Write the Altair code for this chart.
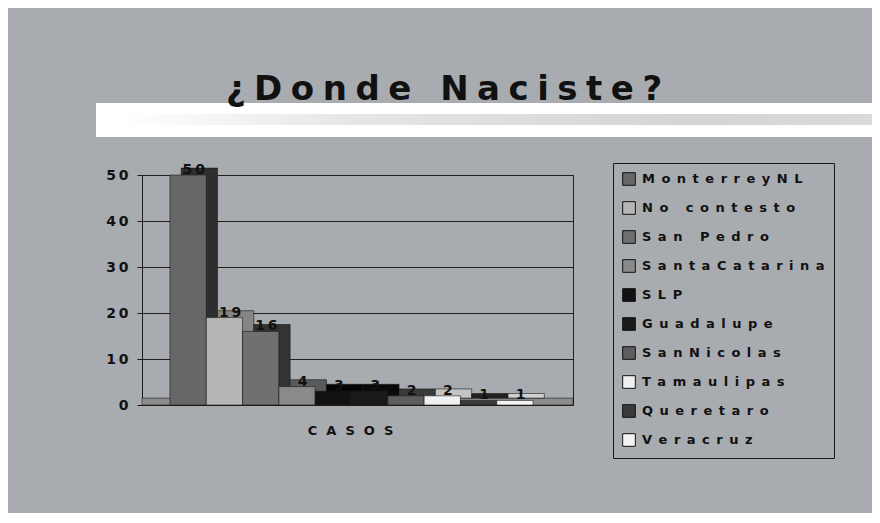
import altair as alt
import pandas as pd

# ---- data ----
categories = ["MonterreyNL", "No contesto", "San Pedro", "SantaCatarina", "SLP",
              "Guadalupe", "SanNicolas", "Tamaulipas", "Queretaro", "Veracruz"]
values = [50, 19, 16, 4, 3, 3, 2, 2, 1, 1]
front_colors = ["#676767", "#b6b6b6", "#707070", "#8a8a8a", "#121212",
                "#1a1a1a", "#5e5e5e", "#f0f0f0", "#3a3a3a", "#f4f4f4"]
side_colors = ["#2e2e2e", "#858585", "#333333", "#5a5a5a", "#050505",
               "#0a0a0a", "#3a3a3a", "#c4c4c4", "#222222", "#cfcfcf"]
y_ticks = [0, 10, 20, 30, 40, 50]
title_text = "¿Donde Naciste?"
x_title = "CASOS"

BG = "#a8abaf"
FONT = "DejaVu Sans"
EN = "\u2002"      # en space, legend tracking
TS = "\u2005"      # four-per-em space, title tracking
FS = "\u2009"      # thin space, number tracking
FIG = "\u2007"     # figure space, axis title tracking

def track(s, sp):
    return sp.join(list(s))

OFF = 0.77   # gap before first bar (slot units)
DX = 0.31    # 3D depth, x (slot units)
DY = 1.5     # 3D depth, y (value units)
XMAX = 11.87

df = pd.DataFrame({"cat": categories, "value": values,
                   "front": front_colors, "side": side_colors})
df["base"] = 0
df["x0"] = [i + OFF for i in range(len(df))]
df["x1"] = df["x0"] + 1
df["bx0"] = df["x0"] + DX
df["bx1"] = df["x1"] + DX
df["by0"] = DY
df["by1"] = df["value"] + DY
df["lx"] = (df["x0"] + df["x1"]) / 2 + DX / 2
df["ly"] = df["value"] + 1.1
df["label"] = [track(str(v), FS) for v in values]

floor = pd.DataFrame({"x0": [0.0], "x1": [XMAX], "y0": [0.0], "y1": [DY]})
one = pd.DataFrame({"t": [track(title_text, TS)]})

xscale = alt.Scale(domain=[0, XMAX], nice=False, zero=False)
yscale = alt.Scale(domain=[0, 50], nice=False)

band = alt.Chart(one).mark_rect(color="#ffffff").encode(
    x=alt.value(-46), x2=alt.value(740), y=alt.value(-72), y2=alt.value(-38))
streak = alt.Chart(one).mark_rect(
    color=alt.Gradient(gradient="linear", x1=0, x2=1, y1=0, y2=0,
                       stops=[alt.GradientStop(color="#ffffff", offset=0),
                              alt.GradientStop(color="#e6e6e6", offset=0.3),
                              alt.GradientStop(color="#d4d4d4", offset=0.75),
                              alt.GradientStop(color="#dadada", offset=1)])).encode(
    x=alt.value(-20), x2=alt.value(740), y=alt.value(-61), y2=alt.value(-50))
title = alt.Chart(one).mark_text(
    font=FONT, fontSize=34, fontWeight="bold", color="#111111",
    align="center", baseline="alphabetic").encode(
    x=alt.value(302), y=alt.value(-75), text="t:N")

floor_layer = alt.Chart(floor).mark_rect(
    color="#8c8c8c", stroke="#222222", strokeWidth=0.6).encode(
    x=alt.X("x0:Q", scale=xscale,
            axis=alt.Axis(labels=False, ticks=False, grid=False, domain=True,
                          domainColor="#1a1a1a", title=track(x_title, FIG),
                          titleFont=FONT, titleFontSize=13, titleFontWeight="bold",
                          titleColor="#111111", titleX=208, titleY=25,
                          titleBaseline="middle", titleAlign="center")),
    x2="x1:Q",
    y=alt.Y("y0:Q", scale=yscale,
            axis=alt.Axis(values=y_ticks, grid=True, gridColor="#1f1f1f",
                          gridWidth=1, domain=True, domainColor="#1a1a1a",
                          ticks=True, tickSize=5, tickColor="#1a1a1a",
                          labelFont=FONT, labelFontSize=14, labelFontWeight="bold",
                          labelColor="#111111", labelPadding=9, title=None,
                          labelExpr="join(split(datum.label, ''), '" + FS + "')")),
    y2="y1:Q")

backs = alt.Chart(df).mark_rect(stroke="#1a1a1a", strokeWidth=0.6).encode(
    x=alt.X("bx0:Q", scale=xscale), x2="bx1:Q",
    y=alt.Y("by0:Q", scale=yscale), y2="by1:Q",
    fill=alt.Fill("side:N", scale=None))

fronts = alt.Chart(df).mark_rect(stroke="#1a1a1a", strokeWidth=0.6).encode(
    x=alt.X("x0:Q", scale=xscale), x2="x1:Q",
    y=alt.Y("base:Q", scale=yscale), y2="value:Q",
    color=alt.Color("cat:N",
                    scale=alt.Scale(domain=categories, range=front_colors),
                    legend=alt.Legend(
                        title=None, orient="none", legendX=471, legendY=-12,
                        symbolType="square", symbolSize=160,
                        symbolStrokeColor="#111111", symbolStrokeWidth=1,
                        symbolOpacity=1,
                        labelFont=FONT, labelFontSize=13, labelFontWeight="bold",
                        labelColor="#111111", labelLimit=400, labelOffset=6,
                        rowPadding=11, padding=9,
                        strokeColor="#1a1a1a",
                        labelExpr="join(split(datum.label, ''), '" + EN + "')")),
    tooltip=["cat:N", "value:Q"])

labels = alt.Chart(df).mark_text(
    font=FONT, fontSize=14, fontWeight="bold", color="#111111",
    align="center", baseline="middle").encode(
    x=alt.X("lx:Q", scale=xscale), y=alt.Y("ly:Q", scale=yscale), text="label:N")

chart = alt.layer(band, streak, title, floor_layer, backs, fronts, labels).properties(
    width=431, height=230,
    autosize=alt.AutoSizeParams(type="none"),
    padding={"left": 134, "top": 167, "right": 299, "bottom": 108},
    background=BG,
).configure_view(stroke="#1f1f1f", strokeWidth=1, fill=BG)

chart.save("out.html", embed_options={"renderer": "svg", "actions": False})
